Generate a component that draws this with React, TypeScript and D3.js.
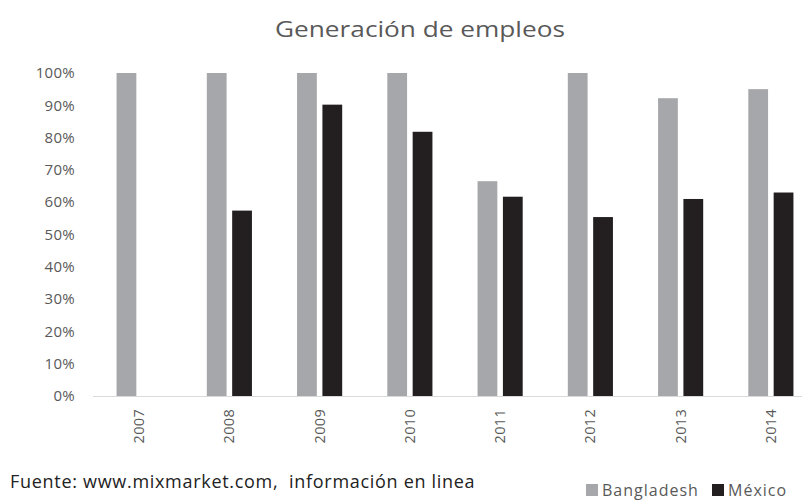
import React, { useEffect, useRef } from "react";
import * as d3 from "d3";

const years = ["2007", "2008", "2009", "2010", "2011", "2012", "2013", "2014"];
const seriesNames = ["Bangladesh", "México"];
const bangladesh = [1.0, 1.0, 1.0, 1.0, 0.665, 1.0, 0.922, 0.95];
const mexico = [null, 0.574, 0.902, 0.818, 0.617, 0.554, 0.61, 0.63];
const yTicks = [0, 0.1, 0.2, 0.3, 0.4, 0.5, 0.6, 0.7, 0.8, 0.9, 1.0];
const colors = ["#a6a7aa", "#231f20"];

const width = 802,
	height = 502;
const font = "'Open Sans', sans-serif";

export default function App() {
	const ref = useRef<SVGSVGElement>(null);

	useEffect(() => {
		const svg = d3.select(ref.current);
		svg.selectAll("*").remove();

		const x0 = d3
			.scaleBand()
			.domain(years)
			.range([94, 816])
			.paddingInner(0.5)
			.paddingOuter(0.25);
		const x1 = d3
			.scaleBand()
			.domain(seriesNames)
			.range([0, x0.bandwidth()])
			.paddingInner(0.22);
		const y = d3.scaleLinear().domain([0, 1]).range([396, 73]);

		// title (stretched a bit, like the original)
		svg
			.append("text")
			.attr("x", 275)
			.attr("y", 37)
			.attr("textLength", 290)
			.attr("lengthAdjust", "spacingAndGlyphs")
			.style("font-family", font)
			.style("font-size", "21px")
			.style("fill", "#595959")
			.text("Generación de empleos");

		// y axis labels
		svg
			.append("g")
			.selectAll("text")
			.data(yTicks)
			.join("text")
			.attr("x", 75)
			.attr("y", (d) => y(d))
			.attr("dy", "0.35em")
			.attr("text-anchor", "end")
			.style("font-family", font)
			.style("font-size", "15px")
			.style("letter-spacing", "0.3px")
			.style("fill", "#595959")
			.text((d) => d3.format(".0%")(d));

		// bars
		const rows = years.map((yr, i) => ({
			year: yr,
			vals: [bangladesh[i], mexico[i]],
		}));
		const g = svg
			.append("g")
			.selectAll("g")
			.data(rows)
			.join("g")
			.attr("transform", (d) => `translate(${x0(d.year)},0)`);
		g.selectAll("rect")
			.data((d) =>
				d.vals
					.map((v, j) => ({ v, name: seriesNames[j], j }))
					.filter((e) => e.v != null)
			)
			.join("rect")
			.attr("x", (d) => x1(d.name)!)
			.attr("width", x1.bandwidth())
			.attr("y", (d) => y(d.v as number))
			.attr("height", (d) => y(0) - y(d.v as number))
			.attr("fill", (d) => colors[d.j]);

		// baseline
		svg
			.append("line")
			.attr("x1", 93)
			.attr("x2", width)
			.attr("y1", y(0) + 0.5)
			.attr("y2", y(0) + 0.5)
			.attr("stroke", "#d9d9d9")
			.attr("stroke-width", 1);

		// x labels
		svg
			.append("g")
			.selectAll("text")
			.data(years)
			.join("text")
			.attr(
				"transform",
				(d) => `translate(${x0(d)! + x0.bandwidth() / 2},409) rotate(-90)`
			)
			.attr("dy", "0.35em")
			.attr("text-anchor", "end")
			.style("font-family", font)
			.style("font-size", "14.5px")
			.style("letter-spacing", "0.3px")
			.style("fill", "#595959")
			.text((d) => d);

		// source note
		svg
			.append("text")
			.attr("x", 10)
			.attr("y", 488)
			.attr("xml:space", "preserve")
			.style("white-space", "pre")
			.style("font-family", font)
			.style("font-size", "18px")
			.style("letter-spacing", "0.7px")
			.style("fill", "#222")
			.text("Fuente: www.mixmarket.com,  información en linea");

		// legend
		const legX = [586, 712];
		const leg = svg
			.append("g")
			.selectAll("g")
			.data(seriesNames)
			.join("g")
			.attr("transform", (_, i) => `translate(${legX[i]},484)`);
		leg
			.append("rect")
			.attr("width", 12)
			.attr("height", 12)
			.attr("fill", (_, i) => colors[i]);
		leg
			.append("text")
			.attr("x", 16)
			.attr("y", 12)
			.style("font-family", font)
			.style("font-size", "16px")
			.style("letter-spacing", "1px")
			.style("fill", "#595959")
			.text((d) => d);
	}, []);

	return (
		<svg
			ref={ref}
			width={width}
			height={height}
			style={{ position: "absolute", left: 0, top: 0, background: "#fff" }}
		/>
	);
}
